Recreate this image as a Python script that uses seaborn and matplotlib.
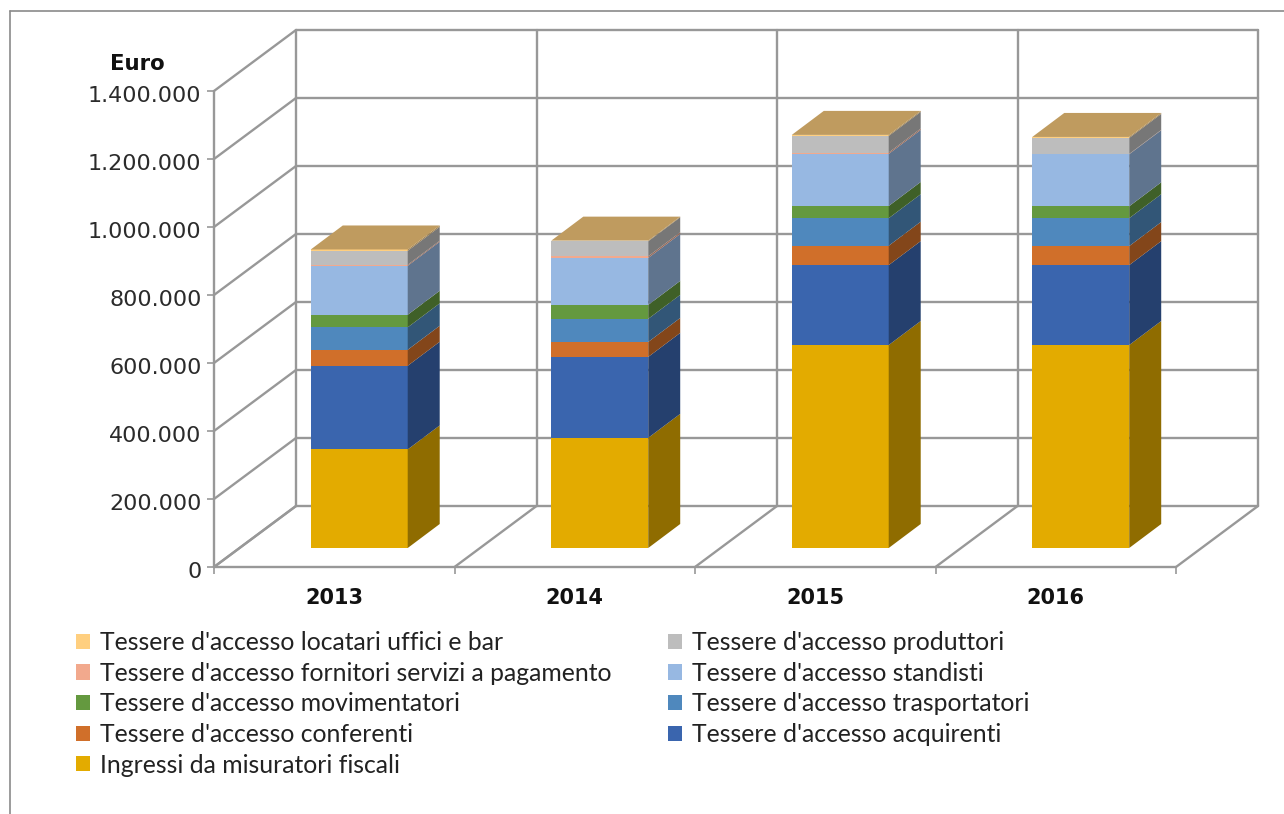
import numpy as np
import matplotlib
matplotlib.use("Agg")
import matplotlib.pyplot as plt
import seaborn as sns
from matplotlib.colors import to_rgb
from matplotlib.lines import Line2D
from matplotlib.patches import Polygon
from matplotlib.transforms import Affine2D, IdentityTransform

years = ["2013", "2014", "2015", "2016"]

misuratori = [290000, 324000, 597000, 597000]
acquirenti = [246000, 238000, 235000, 235000]
conferenti = [47000, 44000, 57000, 56000]
trasportatori = [66000, 68000, 81000, 82000]
movimentatori = [37000, 41000, 36000, 35000]
standisti = [144000, 138000, 153000, 153000]
fornitori = [3000, 5000, 4000, 1000]
produttori = [41000, 44000, 49000, 47000]
locatari = [4000, 2000, 3000, 3000]

series = [
    ("Ingressi da misuratori fiscali", misuratori, "#E3AB00"),
    ("Tessere d'accesso acquirenti", acquirenti, "#3A65AE"),
    ("Tessere d'accesso conferenti", conferenti, "#D06F2A"),
    ("Tessere d'accesso trasportatori", trasportatori, "#4F88BD"),
    ("Tessere d'accesso movimentatori", movimentatori, "#64993F"),
    ("Tessere d'accesso standisti", standisti, "#97B8E2"),
    ("Tessere d'accesso fornitori servizi a pagamento", fornitori, "#F2A98D"),
    ("Tessere d'accesso produttori", produttori, "#BDBDBD"),
    ("Tessere d'accesso locatari uffici e bar", locatari, "#FFCF7F"),
]
legend_order = [8, 6, 4, 2, 0, 7, 5, 3, 1]

y_ticks = [0, 200000, 400000, 600000, 800000, 1000000, 1200000, 1400000]

W, H = 1284, 814
GRID = "#989898"
TEXT = "#2b2b2b"
wall_dx, wall_dy = 82, 61
shift_dx, shift_dy = 25, 19
bar_dx, bar_dy = 32, 24

sns.set_theme(style="white")
plt.rcParams["font.family"] = ["DejaVu Sans"]

fig = plt.figure(figsize=(W / 100, H / 100), dpi=100)
ax = fig.add_axes([214 / W, 1 - 567 / H, 962 / W, 476 / H])
ax.patch.set_visible(False)

bottom = np.zeros(len(years))
for name, vals, col in series:
    sns.barplot(x=years, y=vals, bottom=bottom, color=col, saturation=1, width=0.403,
                errorbar=None, label=name, linewidth=0, zorder=4, ax=ax)
    bottom = bottom + np.array(vals)

ax.set_xlim(-0.5, 3.5)
ax.set_ylim(0, 1400000)
ax.set_xlabel("")
ax.set_ylabel("")
sns.despine(ax=ax, left=True, bottom=True, right=True, top=True)


def shade(col, f):
    return tuple(c * f for c in to_rgb(col))


def px_line(x0, y0, x1, y1, lw=1.7):
    ax.add_line(Line2D([x0, x1], [y0, y1], color=GRID, lw=lw, transform=IdentityTransform(),
                       clip_on=False, zorder=1))


# box: back wall grid, left wall diagonals, floor
to_px = ax.transData.transform
left, right = -0.5, 3.5
for v in y_ticks:
    x0, y0 = to_px((left, v))
    x1, _ = to_px((right, v))
    px_line(x0 + wall_dx, y0 + wall_dy, x1 + wall_dx, y0 + wall_dy)
    px_line(x0, y0, x0 + wall_dx, y0 + wall_dy)
x0, ybot = to_px((left, 0))
_, ytop = to_px((left, 1400000))
px_line(x0, ybot, x0, ytop)
for b in np.arange(left, right + 1):
    xb, _ = to_px((b, 0))
    px_line(xb + wall_dx, ybot + wall_dy, xb + wall_dx, ytop + wall_dy)
    px_line(xb, ybot, xb + wall_dx, ybot + wall_dy)
xb1, _ = to_px((right, 0))
px_line(x0, ybot, xb1, ybot)

# side and top faces come from the bars seaborn drew
for k, (name, vals, col) in enumerate(series):
    for rect in ax.containers[k]:
        rect.set_transform(ax.transData + Affine2D().translate(shift_dx, shift_dy))
        rect.set_clip_on(False)
        xa = rect.get_x()
        xz = xa + rect.get_width()
        ya = rect.get_y()
        yz = ya + rect.get_height()
        p0 = to_px((xz, ya)) + (shift_dx, shift_dy)
        p1 = to_px((xz, yz)) + (shift_dx, shift_dy)
        d = np.array([bar_dx, bar_dy])
        ax.add_patch(Polygon([p0, p1, p1 + d, p0 + d], closed=True, fc=shade(col, 0.63), ec="none",
                             transform=IdentityTransform(), clip_on=False, zorder=4))
        if k == len(series) - 1:
            p2 = to_px((xa, yz)) + (shift_dx, shift_dy)
            ax.add_patch(Polygon([p2, p1, p1 + d, p2 + d], closed=True, fc=shade(col, 0.75), ec="none",
                                 transform=IdentityTransform(), clip_on=False, zorder=4))

# ticks
ax.set_yticks(y_ticks)
ax.set_yticklabels([f"{v:,}".replace(",", ".") for v in y_ticks], fontsize=16, color=TEXT)
ax.tick_params(axis="y", left=True, length=5, width=1.2, color=GRID, pad=4)
ax.set_xticks(range(len(years)))
ax.set_xticklabels(years, fontsize=15, fontweight="bold", color="#111111")
ax.set_xticks(np.arange(left, right + 1), minor=True)
ax.tick_params(axis="x", which="major", bottom=False, length=0, pad=15)
ax.tick_params(axis="x", which="minor", bottom=True, length=5, width=1.2, color=GRID)
# labels sit a bit under their ticks in the original
for t in ax.get_yticklabels():
    t.set_transform(t.get_transform() + Affine2D().translate(0, -3))

fig.text(137.5 / W, 1 - 64 / H, "Euro", fontsize=15.3, fontweight="bold", color="#111111",
         ha="center", va="center")

# outer chart border, only top and left show in the crop
fig.add_artist(Line2D([10 / W, 1], [1 - 10.5 / H, 1 - 10.5 / H], color="#8a8a8a", lw=1.2))
fig.add_artist(Line2D([10 / W, 10 / W], [0, 1 - 10.5 / H], color="#8a8a8a", lw=1.2))

handles, labels = ax.get_legend_handles_labels()
if ax.get_legend() is not None:
    ax.get_legend().remove()
fs = 17.8
em = fs * 100 / 72
leg = fig.legend([handles[i] for i in legend_order], [labels[i] for i in legend_order],
                 ncol=2, loc="upper left", bbox_to_anchor=(76 / W, 1 - 631 / H), frameon=False,
                 borderaxespad=0, borderpad=0, handlelength=14 / em, handleheight=14 / em,
                 handletextpad=10 / em, labelspacing=0.31, columnspacing=2.3,
                 prop={"family": "Lato", "size": fs}, labelcolor="#222222")

fig.savefig("out.png", dpi=100, facecolor="white")
